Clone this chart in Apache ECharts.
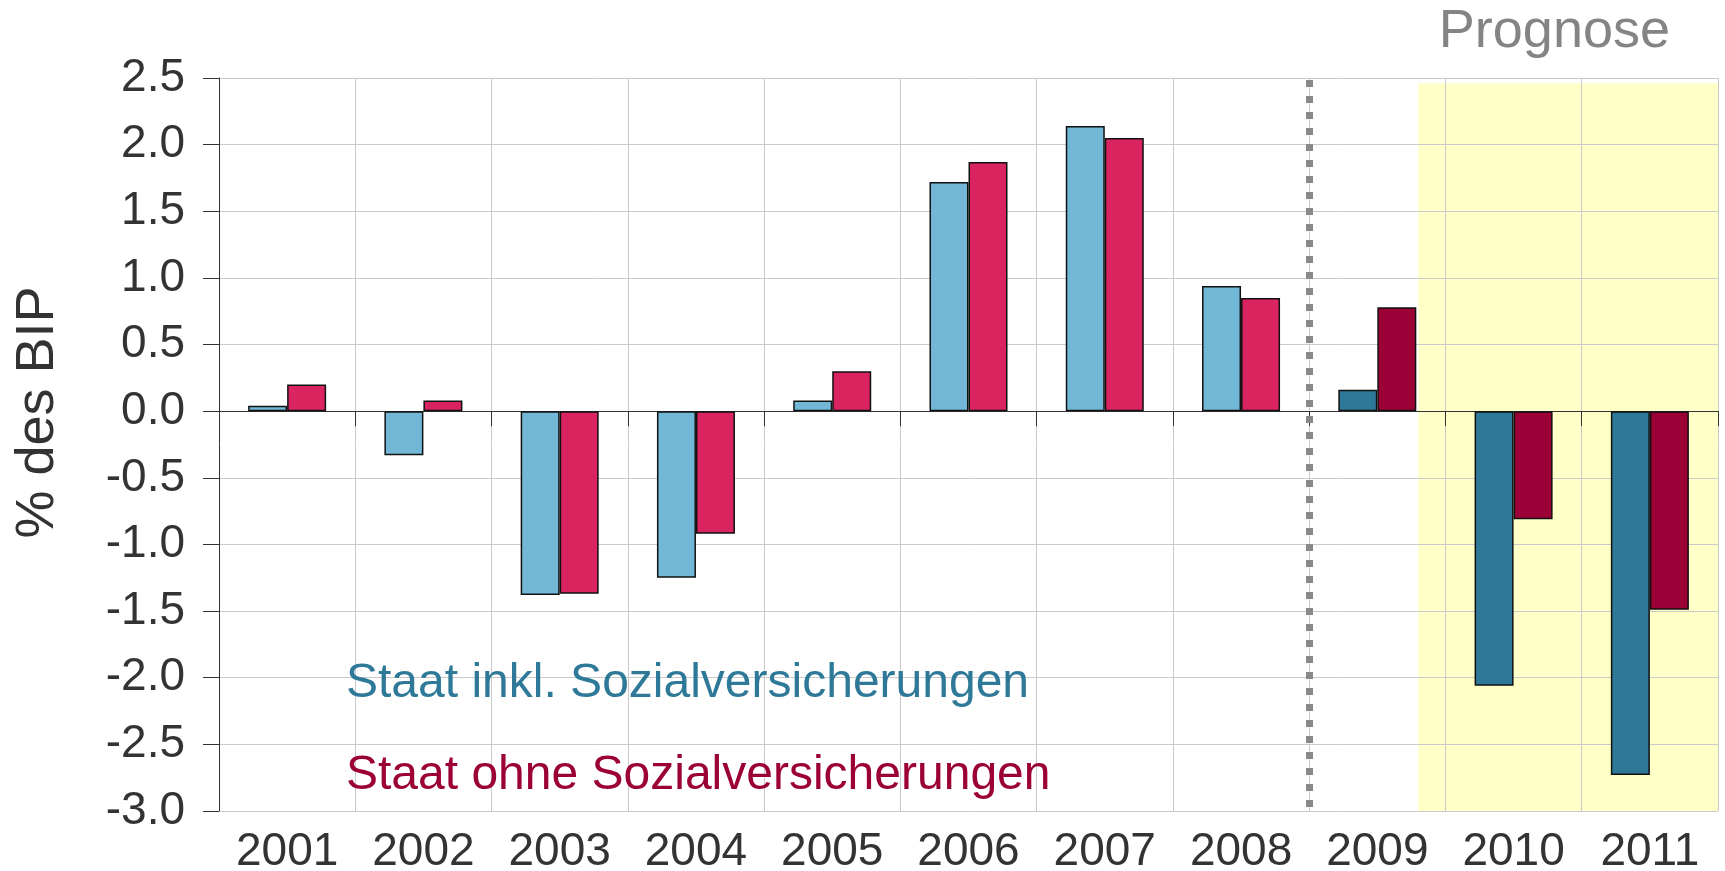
<!DOCTYPE html>
<html>
<head>
<meta charset="utf-8">
<script src="https://cdn.jsdelivr.net/npm/echarts@6/dist/echarts.min.js"></script>
<style>html,body{margin:0;padding:0;background:#fff;}#c{width:1725px;height:871px;}</style>
</head>
<body>
<div id="c"></div>
<script>
var categories = ['2001','2002','2003','2004','2005','2006','2007','2008','2009','2010','2011'];
var inklValues = [0.04, -0.33, -1.38, -1.25, 0.08, 1.72, 2.14, 0.94, 0.16, -2.06, -2.73];
var ohneValues = [0.20, 0.08, -1.37, -0.92, 0.30, 1.87, 2.05, 0.85, 0.78, -0.81, -1.49];
var forecastStartIndex = 8;
var yTicks = {min: -3.0, max: 2.5, interval: 0.5};
var seriesNames = ['Staat inkl. Sozialversicherungen', 'Staat ohne Sozialversicherungen'];
var prognoseArea = {x0: 8.8, x1: 11, y0: 2.46, y1: -3.0};
var separatorAt = 8;

var colors = {
  inkl: '#72b8d6', ohne: '#da2460',
  inklDark: '#2e7898', ohneDark: '#9b0036'
};

function buildData(vals, light, dark) {
  return vals.map(function (v, i) {
    return {value: v, itemStyle: {color: i >= forecastStartIndex ? dark : light}};
  });
}

var chart = echarts.init(document.getElementById('c'));
var font = 'Liberation Sans, Arial, sans-serif';
var option = {
  animation: false,
  grid: {left: 219, right: 7, top: 78, bottom: 60, containLabel: false, outerBoundsMode: 'none'},
  title: {
    text: 'Prognose', right: 50, top: 0,
    textStyle: {color: '#848484', fontSize: 54, fontWeight: 'normal', fontFamily: font}
  },
  legend: {
    data: [
      {name: seriesNames[0], textStyle: {color: colors.inklDark}},
      {name: seriesNames[1], textStyle: {color: colors.ohneDark}}
    ],
    orient: 'vertical', left: 336, top: 655, icon: 'none',
    itemWidth: 0, itemHeight: 10, itemGap: 44, selectedMode: false,
    textStyle: {fontSize: 48, fontFamily: font, lineHeight: 48, padding: 0}
  },
  xAxis: [
    {
      type: 'category', data: categories, position: 'bottom',
      axisLine: {show: false, onZero: false}, axisTick: {show: false},
      splitLine: {show: true, lineStyle: {color: '#cacaca', width: 1}},
      axisLabel: {fontSize: 46, color: '#333', fontFamily: font, margin: 18}
    },
    {
      type: 'category', data: categories, position: 'bottom',
      axisLine: {show: true, onZero: true, lineStyle: {color: '#333', width: 1}},
      axisTick: {show: true, length: 15, lineStyle: {color: '#333'}},
      axisLabel: {show: false}, splitLine: {show: false}
    },
    {type: 'value', min: 0, max: categories.length, show: false, axisLine: {onZero: false}}
  ],
  yAxis: {
    type: 'value', min: yTicks.min, max: yTicks.max, interval: yTicks.interval,
    axisLine: {show: true, onZero: false, lineStyle: {color: '#333', width: 1}},
    axisTick: {show: true, length: 16, lineStyle: {color: '#333'}},
    splitLine: {show: true, lineStyle: {color: '#cacaca', width: 1}},
    axisLabel: {fontSize: 46, color: '#333', fontFamily: font, margin: 34,
      formatter: function (v) { return v.toFixed(1); }},
    name: '% des BIP', nameLocation: 'middle', nameGap: 154, nameRotate: 90,
    nameTextStyle: {fontSize: 54, color: '#333', fontFamily: font, padding: [0, 0, 0, 64]}
  },
  series: [
    {
      name: seriesNames[0], type: 'bar', xAxisIndex: 0,
      data: buildData(inklValues, colors.inkl, colors.inklDark),
      barWidth: 39, barGap: '0%',
      itemStyle: {borderColor: '#111', borderWidth: 1.5}
    },
    {
      name: seriesNames[1], type: 'bar', xAxisIndex: 0,
      data: buildData(ohneValues, colors.ohne, colors.ohneDark),
      barWidth: 39, barGap: '0%',
      itemStyle: {borderColor: '#111', borderWidth: 1.5}
    },
    {
      name: 'deco', type: 'line', xAxisIndex: 2, data: [], clip: false, silent: true,
      markArea: {
        silent: true, z: -1,
        itemStyle: {color: '#ffffc8'},
        data: [[{xAxis: prognoseArea.x0, yAxis: prognoseArea.y0}, {xAxis: prognoseArea.x1, yAxis: prognoseArea.y1}]]
      },
      markLine: {
        silent: true, symbol: 'none', label: {show: false},
        lineStyle: {color: '#888', width: 7, type: [7, 9], dashOffset: -4},
        data: [{xAxis: separatorAt}]
      }
    }
  ]
};
chart.setOption(option);
</script>
</body>
</html>
